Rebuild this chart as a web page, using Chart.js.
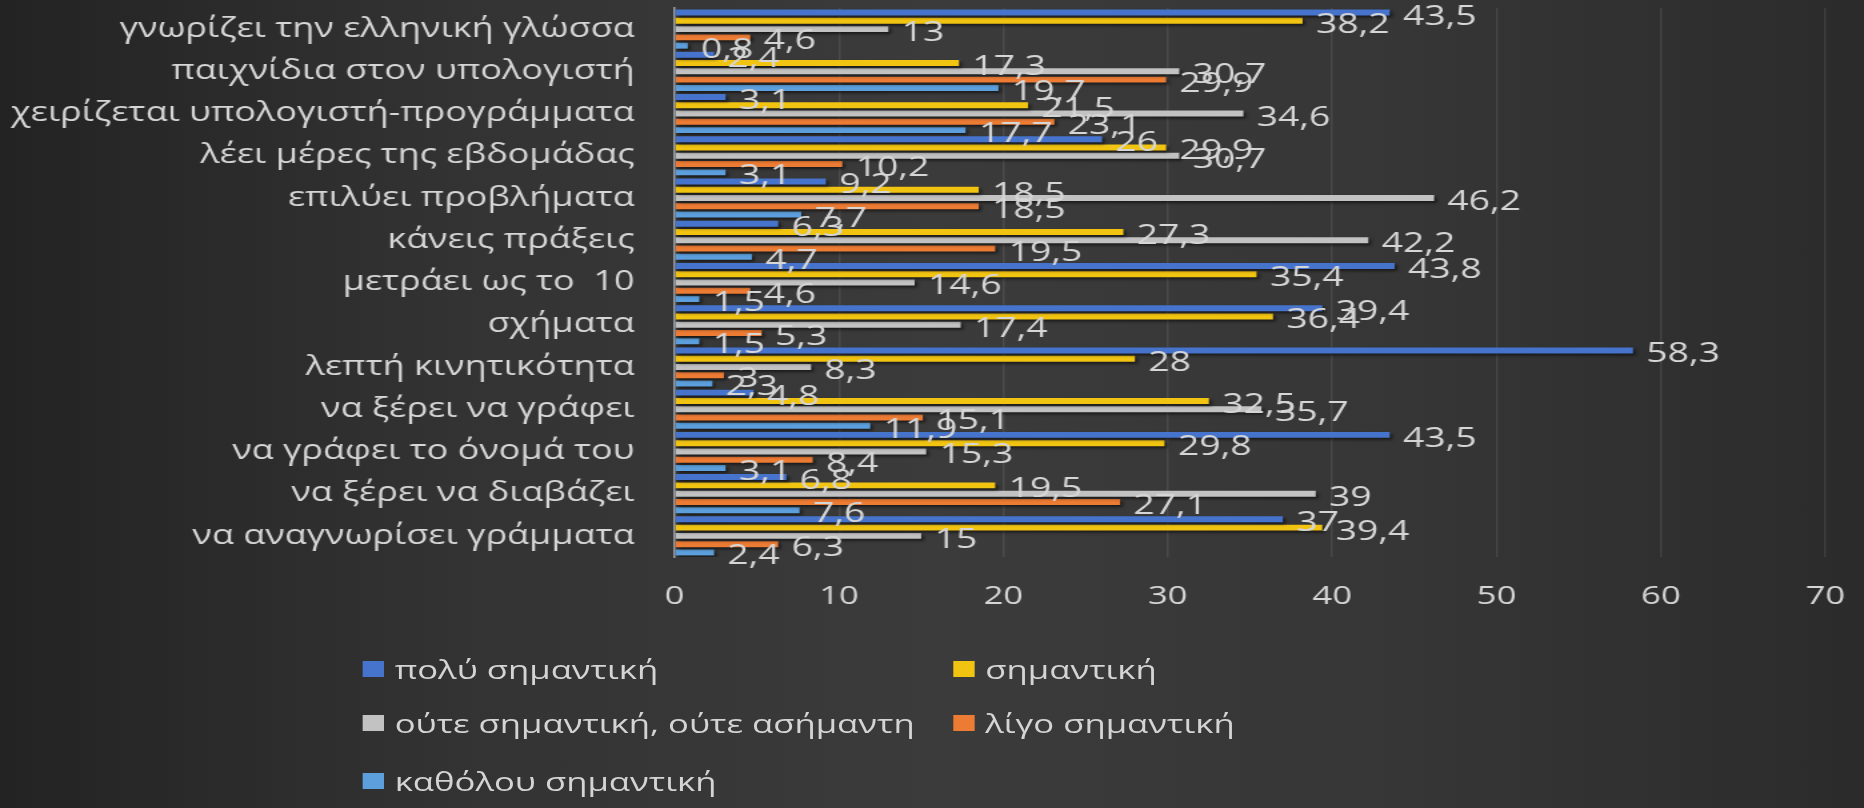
<!DOCTYPE html>
<html lang="el">
<head>
<meta charset="utf-8">
<script src="https://cdn.jsdelivr.net/npm/chart.js@4.4.1/dist/chart.umd.min.js"></script>
<style>
  html, body {
    margin: 0;
    width: 1864px;
    height: 808px;
    overflow: hidden;
    background: linear-gradient(90deg, #232323 0%, #333333 25%, #3b3b3b 50%, #363636 75%, #2b2b2b 100%);
    font-family: "Open Sans", "DejaVu Sans", sans-serif;
  }
  /* the original picture is a 4:3 slide stretched to 16:9, so draw narrow and stretch */
  #stage {
    position: absolute;
    left: 0;
    top: 0;
    width: 1398px;
    height: 808px;
    transform: scaleX(1.3333);
    transform-origin: 0 0;
  }
  #chart { position: absolute; left: 0; top: 0; }
  .leg-item {
    position: absolute;
    height: 30px;
    line-height: 30px;
    font-size: 26px;
    color: #d4d4d4;
    white-space: nowrap;
  }
  .leg-box {
    position: absolute;
    top: 7px;
    width: 16px;
    height: 16px;
  }
</style>
</head>
<body>
<div id="stage">
  <canvas id="chart" width="1398" height="630"></canvas>
  <div id="legend"></div>
</div>
<script>
const categories = [
  "γνωρίζει την ελληνική γλώσσα",
  "παιχνίδια στον υπολογιστή",
  "χειρίζεται υπολογιστή-προγράμματα",
  "λέει μέρες της εβδομάδας",
  "επιλύει προβλήματα",
  "κάνεις πράξεις",
  "μετράει ως το  10",
  "σχήματα",
  "λεπτή κινητικότητα",
  "να ξέρει να γράφει",
  "να γράφει το όνομά του",
  "να ξέρει να διαβάζει",
  "να αναγνωρίσει γράμματα",
];

const seriesNames = [
  "πολύ σημαντική",
  "σημαντική",
  "ούτε σημαντική, ούτε ασήμαντη",
  "λίγο σημαντική",
  "καθόλου σημαντική",
];

const seriesColors = ["#4674cc", "#f2c412", "#c2c2c2", "#ec7b34", "#5c9fdc"];

const veryImportant = [43.5, 2.4, 3.1, 26, 9.2, 6.3, 43.8, 39.4, 58.3, 4.8, 43.5, 6.8, 37];
const important = [38.2, 17.3, 21.5, 29.9, 18.5, 27.3, 35.4, 36.4, 28, 32.5, 29.8, 19.5, 39.4];
const neutral = [13, 30.7, 34.6, 30.7, 46.2, 42.2, 14.6, 17.4, 8.3, 35.7, 15.3, 39, 15];
const littleImportant = [4.6, 29.9, 23.1, 10.2, 18.5, 19.5, 4.6, 5.3, 3, 15.1, 8.4, 27.1, 6.3];
const notImportant = [0.8, 19.7, 17.7, 3.1, 7.7, 4.7, 1.5, 1.5, 2.3, 11.9, 3.1, 7.6, 2.4];

const xTicks = [0, 10, 20, 30, 40, 50, 60, 70];

const seriesValues = [veryImportant, important, neutral, littleImportant, notImportant];

const FONT = "'Open Sans', 'DejaVu Sans', sans-serif";
const TEXT = "#d6d6d6";

function fmt(v) {
  return String(v).replace(".", ",");
}

// soft shadow under the bars, like the slide
const barShadow = {
  id: "barShadow",
  beforeDatasetsDraw(chart) {
    const ctx = chart.ctx;
    ctx.save();
    ctx.shadowColor = "rgba(0, 0, 0, 0.55)";
    ctx.shadowBlur = 3;
    ctx.shadowOffsetX = 2;
    ctx.shadowOffsetY = 2;
  },
  afterDatasetsDraw(chart) {
    chart.ctx.restore();
  },
};

// value labels right after each bar end
const valueLabels = {
  id: "valueLabels",
  afterDatasetsDraw(chart) {
    const ctx = chart.ctx;
    ctx.save();
    ctx.font = "28px " + FONT;
    ctx.fillStyle = TEXT;
    ctx.textAlign = "left";
    ctx.textBaseline = "middle";
    chart.data.datasets.forEach((ds, i) => {
      const meta = chart.getDatasetMeta(i);
      meta.data.forEach((bar, j) => {
        ctx.fillText(fmt(ds.data[j]), bar.x + 10, bar.y + 4);
      });
    });
    ctx.restore();
  },
};

const ctx = document.getElementById("chart").getContext("2d");
const chart = new Chart(ctx, {
  type: "bar",
  data: {
    labels: categories,
    datasets: seriesNames.map((name, i) => ({
      label: name,
      data: seriesValues[i],
      backgroundColor: seriesColors[i],
      borderWidth: 0,
      categoryPercentage: 0.98,
      barPercentage: 0.72,
    })),
  },
  options: {
    indexAxis: "y",
    responsive: false,
    animation: false,
    layout: { padding: { top: 8, right: 29, bottom: 0, left: 0 } },
    plugins: {
      legend: { display: false },
      tooltip: { enabled: false },
    },
    scales: {
      x: {
        min: 0,
        max: 70,
        afterBuildTicks: (scale) => {
          scale.ticks = xTicks.map((v) => ({ value: v }));
        },
        afterFit: (scale) => {
          scale.height = 73;
          scale.paddingLeft = 0;
          scale.paddingRight = 0;
        },
        grid: {
          color: "rgba(255, 255, 255, 0.09)",
          lineWidth: 1.5,
          drawTicks: false,
        },
        border: { display: false },
        ticks: {
          color: TEXT,
          padding: 24,
          font: { family: FONT, size: 26 },
        },
      },
      y: {
        afterFit: (scale) => {
          scale.width = 506;
          scale.paddingTop = 0;
          scale.paddingBottom = 0;
        },
        grid: { display: false, drawTicks: false },
        border: { display: true, color: "#9aa0a8", width: 1.5 },
        ticks: {
          color: TEXT,
          padding: 30,
          autoSkip: false,
          font: { family: FONT, size: 27 },
        },
      },
    },
  },
  plugins: [barShadow, valueLabels],
});

// legend laid out in two columns like the slide
const legendEl = document.getElementById("legend");
const colLeft = [272, 715];
const rowTop = [654, 708, 766];
seriesNames.forEach((name, i) => {
  const item = document.createElement("div");
  item.className = "leg-item";
  item.style.left = colLeft[i % 2] + "px";
  item.style.top = rowTop[Math.floor(i / 2)] + "px";
  const box = document.createElement("span");
  box.className = "leg-box";
  box.style.left = "0px";
  box.style.background = seriesColors[i];
  const txt = document.createElement("span");
  txt.style.marginLeft = "24px";
  txt.innerText = name;
  item.appendChild(box);
  item.appendChild(txt);
  legendEl.appendChild(item);
});
</script>
</body>
</html>
